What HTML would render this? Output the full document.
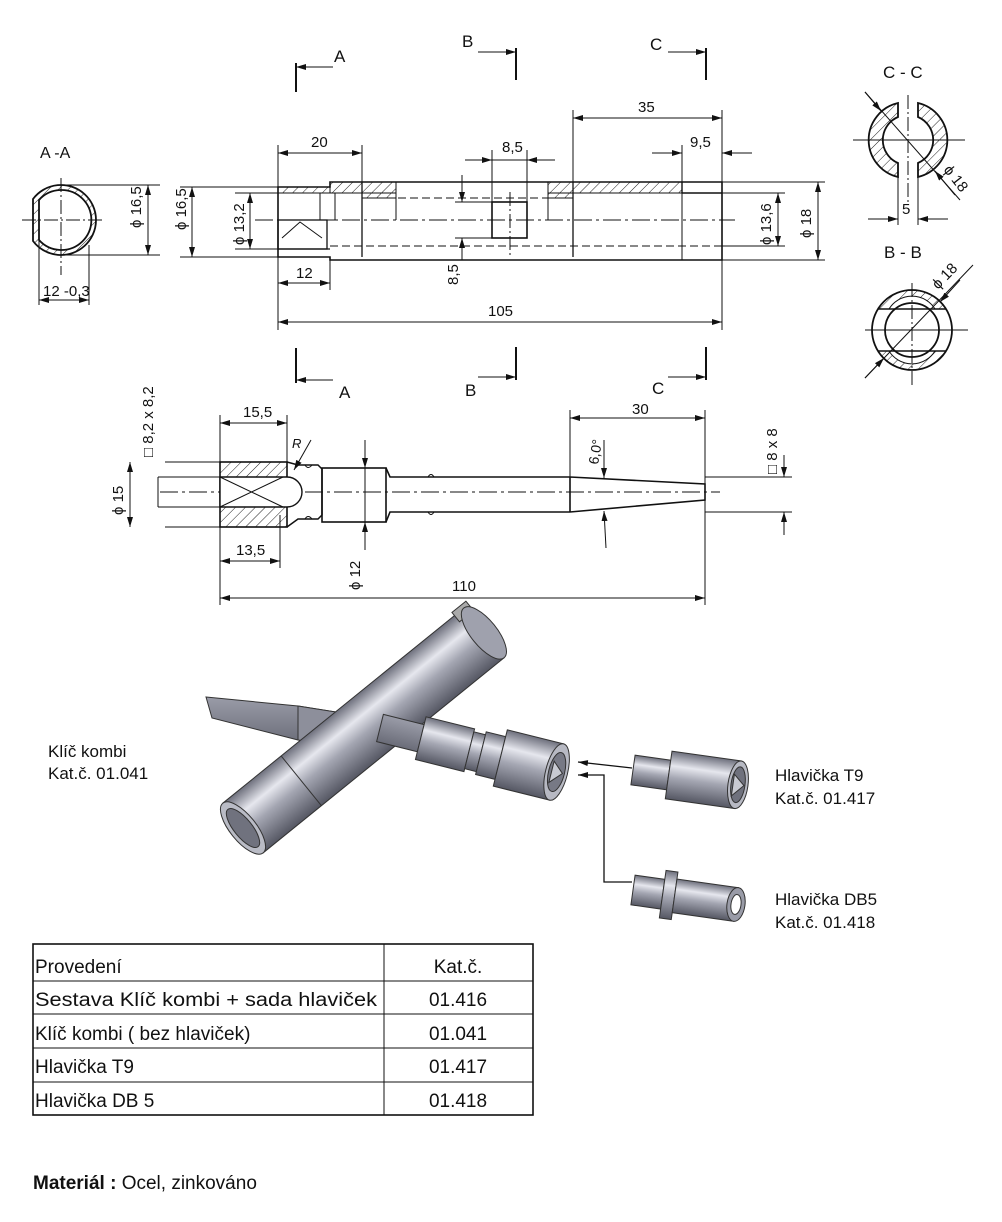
<!DOCTYPE html>
<html><head><meta charset="utf-8"><style>
html,body{margin:0;padding:0;background:#fff;}
svg{display:block;}
</style></head><body>
<svg width="1002" height="1222" viewBox="0 0 1002 1222" xmlns="http://www.w3.org/2000/svg" font-family="Liberation Sans, sans-serif">
<defs>
<pattern id="h" width="7" height="7" patternUnits="userSpaceOnUse" patternTransform="rotate(45)"><line x1="0" y1="0" x2="0" y2="7" stroke="#222" stroke-width="1"/></pattern>
<marker id="ar" markerWidth="10" markerHeight="6" refX="10" refY="3" orient="auto" markerUnits="userSpaceOnUse"><path d="M0,0 L10,3 L0,6 z" fill="#111"/></marker>
<marker id="al" markerWidth="10" markerHeight="6" refX="0" refY="3" orient="auto" markerUnits="userSpaceOnUse"><path d="M10,0 L0,3 L10,6 z" fill="#111"/></marker>
<linearGradient id="cyl" x1="0" y1="0" x2="0" y2="1"><stop offset="0" stop-color="#6d6f7c"/><stop offset="0.3" stop-color="#e6e7ee"/><stop offset="0.55" stop-color="#a4a6b2"/><stop offset="1" stop-color="#555763"/></linearGradient>
<linearGradient id="flat" x1="0" y1="0" x2="0" y2="1"><stop offset="0" stop-color="#9a9ca8"/><stop offset="1" stop-color="#6a6c78"/></linearGradient>
</defs>
<g stroke="#111" fill="none" stroke-width="1">
<!-- ===== A-A section ===== -->
<text x="40" y="158" font-size="16" fill="#111" stroke="none">A -A</text>
<path d="M33,199 A35,35 0 1 1 33,241 Z M39,200 A30,30 0 1 1 39,240 Z" fill="url(#h)" fill-rule="evenodd" stroke-width="1.8"/>
<line x1="22" y1="220" x2="102" y2="220" stroke-dasharray="14,3,2,3"/>
<line x1="61" y1="178" x2="61" y2="275" stroke-dasharray="14,3,2,3"/>
<line x1="61" y1="185" x2="160" y2="185"/><line x1="61" y1="255" x2="160" y2="255"/>
<line x1="148" y1="185" x2="148" y2="255" marker-start="url(#al)" marker-end="url(#ar)"/>
<text transform="translate(141,228) rotate(-90)" font-size="15" fill="#111" stroke="none">ϕ 16,5</text>
<line x1="39" y1="240" x2="39" y2="305"/><line x1="89" y1="245" x2="89" y2="305"/>
<line x1="39" y1="300" x2="89" y2="300" marker-start="url(#al)" marker-end="url(#ar)"/>
<text x="43" y="296" font-size="15" fill="#111" stroke="none">12 -0,3</text>

<!-- ===== Top view ===== -->
<line x1="180" y1="187" x2="278" y2="187"/><line x1="180" y1="257" x2="278" y2="257"/>
<line x1="192" y1="187" x2="192" y2="257" marker-start="url(#al)" marker-end="url(#ar)"/>
<text transform="translate(186,230) rotate(-90)" font-size="15" fill="#111" stroke="none">ϕ 16,5</text>
<line x1="235" y1="193" x2="278" y2="193"/><line x1="235" y1="249" x2="278" y2="249"/>
<line x1="250" y1="193" x2="250" y2="249" marker-start="url(#al)" marker-end="url(#ar)"/>
<text transform="translate(244,245) rotate(-90)" font-size="15" fill="#111" stroke="none">ϕ 13,2</text>
<rect x="278" y="187" width="52" height="6" fill="url(#h)"/>
<rect x="330" y="182" width="66" height="11" fill="url(#h)"/>
<rect x="548" y="182" width="134" height="11" fill="url(#h)"/>
<rect x="362" y="193" width="34" height="5" fill="url(#h)"/>
<rect x="548" y="193" width="25" height="5" fill="url(#h)"/>
<path d="M278,187 L330,187 L330,182 L722,182 L722,260 L330,260 L330,257 L278,257 Z" stroke-width="1.6"/>
<line x1="682" y1="193" x2="722" y2="193" stroke-width="1.4"/>
<line x1="682" y1="182" x2="682" y2="193" stroke-width="1.4"/>
<line x1="682" y1="193" x2="682" y2="260"/>
<line x1="362" y1="182" x2="362" y2="257" stroke-width="1.3"/>
<line x1="573" y1="182" x2="573" y2="257" stroke-width="1.3"/>
<line x1="396" y1="198" x2="396" y2="220"/><line x1="548" y1="198" x2="548" y2="220"/>
<line x1="330" y1="246" x2="722" y2="246" stroke-dasharray="8,4"/>
<line x1="362" y1="198" x2="573" y2="198" stroke-dasharray="8,4"/>
<line x1="278" y1="249" x2="330" y2="249" stroke-width="1.3"/>
<rect x="278" y="220" width="49" height="29" stroke-width="1.3"/>
<rect x="320" y="193" width="15" height="27"/>
<path d="M282,238 L300,222 L322,238" />
<rect x="492" y="202" width="35" height="36" stroke-width="1.6"/>
<line x1="255" y1="220" x2="735" y2="220" stroke-dasharray="18,4,3,4"/>
<line x1="510" y1="192" x2="510" y2="255" stroke-dasharray="14,3,2,3"/>
<line x1="278" y1="145" x2="278" y2="187"/><line x1="362" y1="145" x2="362" y2="182"/>
<line x1="278" y1="153" x2="362" y2="153" marker-start="url(#al)" marker-end="url(#ar)"/>
<text x="311" y="147" font-size="15" fill="#111" stroke="none">20</text>
<line x1="492" y1="150" x2="492" y2="202"/><line x1="527" y1="150" x2="527" y2="202"/>
<line x1="465" y1="160" x2="492" y2="160" marker-end="url(#ar)"/><line x1="555" y1="160" x2="527" y2="160" marker-end="url(#ar)"/>
<line x1="492" y1="160" x2="527" y2="160"/>
<text x="502" y="152" font-size="15" fill="#111" stroke="none">8,5</text>
<line x1="573" y1="110" x2="573" y2="182"/><line x1="722" y1="110" x2="722" y2="182"/>
<line x1="573" y1="118" x2="722" y2="118" marker-start="url(#al)" marker-end="url(#ar)"/>
<text x="638" y="112" font-size="15" fill="#111" stroke="none">35</text>
<line x1="682" y1="145" x2="682" y2="182"/>
<line x1="652" y1="153" x2="682" y2="153" marker-end="url(#ar)"/><line x1="752" y1="153" x2="722" y2="153" marker-end="url(#ar)"/>
<text x="690" y="147" font-size="15" fill="#111" stroke="none">9,5</text>
<line x1="462" y1="175" x2="462" y2="202" marker-end="url(#ar)"/><line x1="462" y1="260" x2="462" y2="238" marker-end="url(#ar)"/>
<line x1="455" y1="202" x2="492" y2="202"/><line x1="455" y1="238" x2="492" y2="238"/>
<text transform="translate(458,285) rotate(-90)" font-size="15" fill="#111" stroke="none">8,5</text>
<line x1="722" y1="193" x2="785" y2="193"/><line x1="722" y1="246" x2="785" y2="246"/>
<line x1="778" y1="193" x2="778" y2="246" marker-start="url(#al)" marker-end="url(#ar)"/>
<text transform="translate(771,245) rotate(-90)" font-size="15" fill="#111" stroke="none">ϕ 13,6</text>
<line x1="722" y1="182" x2="825" y2="182"/><line x1="722" y1="260" x2="825" y2="260"/>
<line x1="818" y1="182" x2="818" y2="260" marker-start="url(#al)" marker-end="url(#ar)"/>
<text transform="translate(811,238) rotate(-90)" font-size="15" fill="#111" stroke="none">ϕ 18</text>
<line x1="278" y1="257" x2="278" y2="330"/><line x1="330" y1="260" x2="330" y2="290"/><line x1="722" y1="260" x2="722" y2="330"/>
<line x1="278" y1="283" x2="330" y2="283" marker-start="url(#al)" marker-end="url(#ar)"/>
<text x="296" y="278" font-size="15" fill="#111" stroke="none">12</text>
<line x1="278" y1="322" x2="722" y2="322" marker-start="url(#al)" marker-end="url(#ar)"/>
<text x="488" y="316" font-size="15" fill="#111" stroke="none">105</text>
<g stroke-width="2"><line x1="296" y1="63" x2="296" y2="92"/><line x1="516" y1="48" x2="516" y2="80"/><line x1="706" y1="48" x2="706" y2="80"/>
<line x1="296" y1="348" x2="296" y2="383"/><line x1="516" y1="347" x2="516" y2="380"/><line x1="706" y1="347" x2="706" y2="380"/></g>
<line x1="333" y1="67" x2="296" y2="67" marker-end="url(#ar)"/>
<line x1="478" y1="52" x2="516" y2="52" marker-end="url(#ar)"/>
<line x1="668" y1="52" x2="706" y2="52" marker-end="url(#ar)"/>
<line x1="333" y1="380" x2="296" y2="380" marker-end="url(#ar)"/>
<line x1="478" y1="377" x2="516" y2="377" marker-end="url(#ar)"/>
<line x1="668" y1="377" x2="706" y2="377" marker-end="url(#ar)"/>
<g font-size="17" fill="#111" stroke="none"><text x="334" y="62">A</text><text x="462" y="47">B</text><text x="650" y="50">C</text>
<text x="339" y="398">A</text><text x="465" y="396">B</text><text x="652" y="394">C</text></g>

<!-- ===== C-C ===== -->
<text x="883" y="78" font-size="17" fill="#111" stroke="none">C - C</text>
<path d="M898,103 A38,38 0 0 0 898,177 L898,163 A25,25 0 0 1 898,117 Z" fill="url(#h)" stroke-width="1.8"/>
<path d="M918,103 A38,38 0 0 1 918,177 L918,163 A25,25 0 0 0 918,117 Z" fill="url(#h)" stroke-width="1.8"/>
<line x1="853" y1="140" x2="965" y2="140"/><line x1="908" y1="95" x2="908" y2="205" stroke-dasharray="14,3,2,3"/>
<line x1="865" y1="92" x2="960" y2="200"/>
<line x1="865" y1="92" x2="881" y2="111" marker-end="url(#ar)"/><line x1="955" y1="195" x2="935" y2="171" marker-end="url(#ar)"/>
<text transform="translate(943,170) rotate(52)" font-size="15" fill="#111" stroke="none">ϕ 18</text>
<line x1="898" y1="177" x2="898" y2="225"/><line x1="918" y1="177" x2="918" y2="225"/>
<line x1="868" y1="219" x2="898" y2="219" marker-end="url(#ar)"/><line x1="948" y1="219" x2="918" y2="219" marker-end="url(#ar)"/>
<text x="902" y="214" font-size="15" fill="#111" stroke="none">5</text>

<!-- ===== B-B ===== -->
<text x="884" y="258" font-size="17" fill="#111" stroke="none">B - B</text>
<path d="M878,309 A40,40 0 0 1 946,309 L935,309 A27,27 0 0 0 889,309 Z" fill="url(#h)"/>
<path d="M878,351 A40,40 0 0 0 946,351 L935,351 A27,27 0 0 1 889,351 Z" fill="url(#h)"/>
<circle cx="912" cy="330" r="40" stroke-width="1.8"/>
<circle cx="912" cy="330" r="27" stroke-width="1.8"/>
<line x1="878" y1="309" x2="946" y2="309" stroke-width="1.5"/><line x1="878" y1="351" x2="946" y2="351" stroke-width="1.5"/>
<line x1="865" y1="330" x2="968" y2="330"/><line x1="912" y1="283" x2="912" y2="385" stroke-dasharray="14,3,2,3"/>
<line x1="865" y1="378" x2="973" y2="265"/>
<line x1="865" y1="378" x2="884" y2="358" marker-end="url(#ar)"/><line x1="960" y1="280" x2="940" y2="302" marker-end="url(#ar)"/>
<text transform="translate(938,290) rotate(-46)" font-size="15" fill="#111" stroke="none">ϕ 18</text>

<!-- ===== Second view ===== -->
<line x1="160" y1="492" x2="720" y2="492" stroke-dasharray="18,4,3,4"/>
<rect x="220" y="462" width="67" height="65" fill="url(#h)" stroke-width="1.6"/>
<path d="M220,477 L287,477 A15,15 0 0 1 287,507 L220,507 Z" fill="#fff" stroke-width="1.4"/>
<path d="M220,477 L283,507 M220,507 L283,477"/>
<path d="M287,462 L298,465 L318,465 L322,469 L322,515 L318,519 L298,519 L287,527" stroke-width="1.5"/>
<path d="M305,465 Q308,470 312,465 M305,519 Q308,514 312,519"/>
<rect x="322" y="468" width="64" height="54" stroke-width="1.6"/>
<path d="M386,468 L390,477 L570,477 M386,522 L390,512 L570,512" stroke-width="1.6"/>
<path d="M428,477 Q431,472 434,477 M428,512 Q431,517 434,512"/>
<path d="M570,477 L570,512 M570,477 L705,484 L705,500 L570,512" stroke-width="1.6"/>
<line x1="165" y1="462" x2="220" y2="462"/><line x1="165" y1="527" x2="220" y2="527"/>
<line x1="158" y1="477" x2="220" y2="477"/><line x1="158" y1="507" x2="220" y2="507"/>
<line x1="130" y1="462" x2="130" y2="527" marker-start="url(#al)" marker-end="url(#ar)"/>
<text transform="translate(123,515) rotate(-90)" font-size="15" fill="#111" stroke="none">ϕ 15</text>
<line x1="158" y1="477" x2="158" y2="507"/>
<text transform="translate(153,457) rotate(-90)" font-size="15" fill="#111" stroke="none">□ 8,2 x 8,2</text>
<line x1="220" y1="415" x2="220" y2="605"/><line x1="287" y1="415" x2="287" y2="462"/>
<line x1="220" y1="423" x2="287" y2="423" marker-start="url(#al)" marker-end="url(#ar)"/>
<text x="243" y="417" font-size="15" fill="#111" stroke="none">15,5</text>
<line x1="280" y1="515" x2="280" y2="568"/>
<line x1="220" y1="561" x2="280" y2="561" marker-start="url(#al)" marker-end="url(#ar)"/>
<text x="236" y="555" font-size="15" fill="#111" stroke="none">13,5</text>
<line x1="365" y1="440" x2="365" y2="468" marker-end="url(#ar)"/><line x1="365" y1="550" x2="365" y2="522" marker-end="url(#ar)"/>
<line x1="365" y1="468" x2="365" y2="522"/>
<text transform="translate(360,590) rotate(-90)" font-size="15" fill="#111" stroke="none">ϕ 12</text>
<line x1="311" y1="440" x2="294" y2="470" marker-end="url(#ar)"/>
<text x="292" y="448" font-size="13" font-style="italic" fill="#111" stroke="none">R</text>
<line x1="570" y1="410" x2="570" y2="477"/><line x1="705" y1="410" x2="705" y2="605"/>
<line x1="570" y1="418" x2="705" y2="418" marker-start="url(#al)" marker-end="url(#ar)"/>
<text x="632" y="414" font-size="15" fill="#111" stroke="none">30</text>
<line x1="604" y1="440" x2="604" y2="478" marker-end="url(#ar)"/><line x1="606" y1="548" x2="604" y2="511" marker-end="url(#ar)"/>
<text transform="translate(598,465) rotate(-80)" font-size="14" fill="#111" stroke="none">6,0°</text>
<line x1="705" y1="477" x2="792" y2="477"/><line x1="705" y1="512" x2="792" y2="512"/>
<line x1="784" y1="455" x2="784" y2="477" marker-end="url(#ar)"/><line x1="784" y1="535" x2="784" y2="512" marker-end="url(#ar)"/>
<text transform="translate(777,474) rotate(-90)" font-size="15" fill="#111" stroke="none">□ 8 x 8</text>
<line x1="220" y1="598" x2="705" y2="598" marker-start="url(#al)" marker-end="url(#ar)"/>
<text x="452" y="591" font-size="15" fill="#111" stroke="none">110</text>
</g>

<!-- ===== 3D illustration ===== -->
<g stroke="#333" stroke-width="1">
<polygon points="206,697 298,706 336,712 330,745 298,740 212,718" fill="url(#flat)"/>
<polygon points="298,706 336,712 330,745 298,740" fill="#8d8f9b"/>
<g transform="translate(243,828) rotate(-39)">
<rect x="0" y="-32" width="310" height="64" fill="url(#cyl)"/>
<rect x="298" y="-36" width="18" height="12" fill="#aaa"/>
<line x1="75" y1="-32" x2="75" y2="32"/>
<ellipse cx="0" cy="0" rx="13" ry="32" fill="#b9bbc5"/>
<ellipse cx="0" cy="0" rx="9" ry="24" fill="#70727e"/>
<ellipse cx="310" cy="0" rx="13" ry="32" fill="#9fa1ad"/>
</g>
<g transform="translate(380,728) rotate(14)">
<rect x="0" y="-14" width="42" height="28" fill="url(#flat)"/>
<rect x="42" y="-22" width="50" height="44" fill="url(#cyl)"/>
<rect x="92" y="-19" width="12" height="38" fill="url(#cyl)"/>
<rect x="104" y="-22" width="20" height="44" fill="url(#cyl)"/>
<rect x="124" y="-29" width="58" height="58" fill="url(#cyl)"/>
<ellipse cx="182" cy="0" rx="11" ry="29" fill="#b7b9c3"/>
<ellipse cx="182" cy="0" rx="8" ry="20" fill="#777985"/>
<polygon points="177,-10 188,0 177,12" fill="#c8cad2"/>
</g>
<g transform="translate(633,770) rotate(8)">
<rect x="0" y="-15" width="36" height="30" fill="url(#cyl)"/>
<rect x="36" y="-24" width="70" height="48" fill="url(#cyl)"/>
<ellipse cx="106" cy="0" rx="10" ry="24" fill="#b7b9c3"/>
<ellipse cx="106" cy="0" rx="7" ry="18" fill="#6f717d"/>
<polygon points="101,-10 112,0 101,12" fill="#c8cad2"/>
</g>
<g transform="translate(633,890) rotate(8)">
<rect x="0" y="-15" width="30" height="30" fill="url(#cyl)"/>
<rect x="30" y="-24" width="12" height="48" fill="url(#cyl)"/>
<rect x="42" y="-17" width="62" height="34" fill="url(#cyl)"/>
<ellipse cx="104" cy="0" rx="9" ry="17" fill="#999ba7"/>
<ellipse cx="104" cy="0" rx="5" ry="10" fill="#fff"/>
</g>
</g>
<g stroke="#111" stroke-width="1.3" fill="none">
<line x1="632" y1="768" x2="578" y2="762" marker-end="url(#ar)"/>
<path d="M632,882 L604,882 L604,775 L578,775" marker-end="url(#ar)"/>
</g>
<g font-size="17" fill="#111">
<text x="48" y="757">Klíč kombi</text><text x="48" y="779">Kat.č.  01.041</text>
<text x="775" y="781">Hlavička  T9</text><text x="775" y="804">Kat.č.  01.417</text>
<text x="775" y="905">Hlavička  DB5</text><text x="775" y="928">Kat.č.  01.418</text>
</g>

<!-- ===== Table ===== -->
<g stroke="#111" fill="none">
<rect x="33" y="944" width="500" height="171" stroke-width="1.6"/>
<line x1="384" y1="944" x2="384" y2="1115"/>
<line x1="33" y1="981" x2="533" y2="981"/><line x1="33" y1="1014" x2="533" y2="1014"/>
<line x1="33" y1="1048" x2="533" y2="1048"/><line x1="33" y1="1082" x2="533" y2="1082"/>
</g>
<g font-size="19" fill="#111">
<text x="35" y="973">Provedení</text><text x="458" y="973" text-anchor="middle">Kat.č.</text>
<text x="35" y="1006" textLength="342" lengthAdjust="spacingAndGlyphs">Sestava Klíč kombi + sada hlaviček</text><text x="458" y="1006" text-anchor="middle">01.416</text>
<text x="35" y="1040">Klíč kombi ( bez hlaviček)</text><text x="458" y="1040" text-anchor="middle">01.041</text>
<text x="35" y="1073">Hlavička T9</text><text x="458" y="1073" text-anchor="middle">01.417</text>
<text x="35" y="1107">Hlavička DB 5</text><text x="458" y="1107" text-anchor="middle">01.418</text>
</g>
<text x="33" y="1189" font-size="19" fill="#111"><tspan font-weight="bold">Materiál :</tspan>  Ocel, zinkováno</text>
</svg>
</body></html>
